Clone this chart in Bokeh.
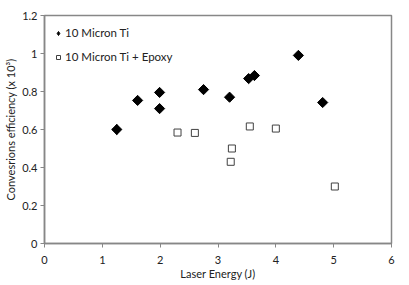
import math
from bokeh.plotting import figure
from bokeh.models import Range1d, FixedTicker, Legend, LegendItem
from bokeh.embed import file_html
from bokeh.resources import INLINE

ti_x = [1.25, 1.61, 1.99, 1.99, 2.75, 3.2, 3.53, 3.63, 4.39, 4.81]
ti_y = [0.60, 0.753, 0.795, 0.71, 0.81, 0.77, 0.868, 0.884, 0.99, 0.742]
ep_x = [2.30, 2.60, 3.22, 3.24, 3.55, 4.00, 5.02]
ep_y = [0.584, 0.582, 0.43, 0.50, 0.616, 0.605, 0.30]

x_ticks = [0, 1, 2, 3, 4, 5, 6]
y_ticks = [0, 0.2, 0.4, 0.6, 0.8, 1.0, 1.2]
y_labels = ["0", "0.2", "0.4", "0.6", "0.8", "1", "1.2"]

FONT = "Lato"
GRAY = "#878787"

p = figure(width=400, height=285, output_backend="svg", toolbar_location=None,
           x_range=Range1d(0, 6), y_range=Range1d(0, 1.2),
           min_border_left=44, min_border_right=9, min_border_top=15, min_border_bottom=42)

r1 = p.scatter(ti_x, ti_y, marker="square", angle=math.pi / 4, size=7.2,
               fill_color="black", line_color="black")
r2 = p.scatter(ep_x, ep_y, marker="square", size=7, fill_color="white",
               line_color="#404040", line_width=1)
# legend glyph for the diamond series (drawn inside the first rotated-square point)
r1_leg = p.scatter(x=ti_x[:1], y=ti_y[:1], marker="diamond", size=10,
                   fill_color="black", line_color="black")

p.xgrid.visible = False
p.ygrid.visible = False
p.outline_line_color = GRAY
p.outline_line_width = 1.5

for ax in (p.xaxis[0], p.yaxis[0]):
    ax.axis_line_color = GRAY
    ax.axis_line_width = 1.5
    ax.major_tick_line_color = GRAY
    ax.major_tick_in = 0
    ax.major_tick_out = 4
    ax.minor_tick_line_color = None
    ax.major_label_text_font = FONT
    ax.major_label_text_font_size = "11px"
    ax.major_label_text_color = "#222222"
    ax.axis_label_text_font = FONT
    ax.axis_label_text_font_size = "11px"
    ax.axis_label_text_font_style = "normal"
    ax.axis_label_text_color = "#222222"

p.xaxis.ticker = FixedTicker(ticks=x_ticks)
p.yaxis.ticker = FixedTicker(ticks=y_ticks)
p.yaxis.major_label_overrides = {t: l for t, l in zip(y_ticks, y_labels)}
p.xaxis.axis_label = "Laser Energy (J)"
p.yaxis.axis_label = "Convesrions efficiency (x 10³)"
p.xaxis.major_label_standoff = 8
p.yaxis.major_label_standoff = 3
p.xaxis.axis_label_standoff = 0
p.yaxis.axis_label_standoff = 2

legend = Legend(items=[LegendItem(label="10 Micron Ti", renderers=[r1_leg]),
                       LegendItem(label="10 Micron Ti + Epoxy", renderers=[r2])],
                location=(9, 180), border_line_color=None, background_fill_alpha=0,
                label_text_font=FONT, label_text_font_size="11.5px", label_text_color="#222222",
                glyph_width=10, glyph_height=12, spacing=11, label_standoff=2, padding=0, margin=0)
p.add_layout(legend, "center")

open("out.html", "w").write(file_html(p, INLINE))
